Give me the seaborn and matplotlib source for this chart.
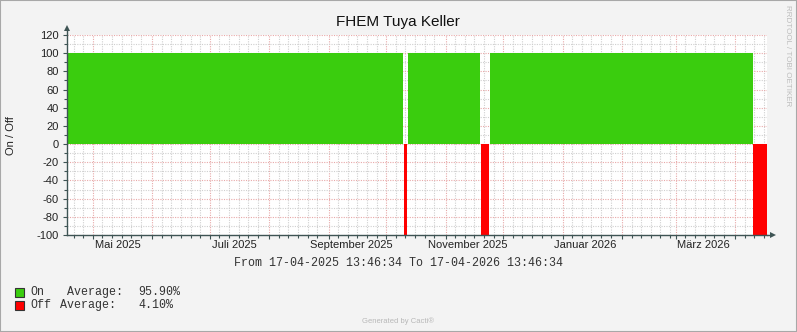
import matplotlib
matplotlib.use("Agg")
import numpy as np
import pandas as pd
import matplotlib.pyplot as plt
import matplotlib.dates as mdates
from matplotlib.patches import Rectangle
import seaborn as sns

# ---------------- data ----------------
title = "FHEM Tuya Keller"
y_label = "On / Off"
t_start = "2025-04-17 13:46:34"
t_end = "2026-04-17 13:46:34"

on_starts = ["2025-04-17 13:46:34", "2025-10-12 09:00:00", "2025-11-24 04:00:00"]
on_ends = ["2025-10-09 18:30:00", "2025-11-19 02:00:00", "2026-04-10 00:20:00"]
on_value = 100

off_starts = ["2025-10-10 06:40:00", "2025-11-19 13:40:00", "2026-04-10 06:00:00"]
off_ends = ["2025-10-11 21:00:00", "2025-11-23 16:00:00", "2026-04-17 13:46:34"]
off_value = -100

month_labels = ["Mai 2025", "Juli 2025", "September 2025", "November 2025",
                "Januar 2026", "März 2026"]
month_label_dates = ["2025-05-14 00:00:00", "2025-07-14 00:00:00", "2025-09-13 00:00:00",
                     "2025-11-12 16:00:00", "2026-01-12 20:00:00", "2026-03-15 06:00:00"]

y_ticks = [-100, -80, -60, -40, -20, 0, 20, 40, 60, 80, 100, 120]

legend_names = ["On", "Off"]
legend_avgs = ["95.90%", "4.10%"]
period_text = "From 17-04-2025 13:46:34 To 17-04-2026 13:46:34"
footer = "Generated by Cacti®"
side_text = "RRDTOOL / TOBI OETIKER"

# ---------------- style ----------------
GREEN = "#3ACD0E"
RED = "#FF0000"
BG = "#F3F3F3"
AXC = "#3E5454"
SANS = ["Liberation Sans", "DejaVu Sans"]
MONO = ["Liberation Mono", "DejaVu Sans Mono"]

sns.set_theme(style="white")
plt.rcParams["font.family"] = SANS
plt.rcParams["axes.unicode_minus"] = False

W, H = 797, 332
fig = plt.figure(figsize=(W / 100, H / 100), dpi=100, facecolor=BG)

def fx(px):
    return px / W

def fy(py):
    return 1 - py / H

L, R, T, B = 67, 767, 35, 235
ax = fig.add_axes([fx(L), fy(B), (R - L) / W, (B - T) / H])
ax.set_facecolor("white")

t0 = pd.Timestamp(t_start)
t1 = pd.Timestamp(t_end)

for s, e in zip(on_starts, on_ends):
    xs = [pd.Timestamp(s), pd.Timestamp(e)]
    ax.fill_between(xs, 0, on_value, color=GREEN, lw=0, zorder=2)
for s, e in zip(off_starts, off_ends):
    xs = [pd.Timestamp(s), pd.Timestamp(e)]
    ax.fill_between(xs, off_value, 0, color=RED, lw=0, zorder=2)

ax.set_xlim(t0, t1)
ax.set_ylim(-100, 120)

# grids
ax.xaxis.set_major_locator(mdates.MonthLocator())
ax.xaxis.set_minor_locator(mdates.DayLocator(bymonthday=[6, 11, 16, 21, 26]))
ax.xaxis.set_major_formatter(plt.NullFormatter())
ax.set_yticks(y_ticks)
ax.set_yticks(np.arange(-90, 120, 20), minor=True)

ax.grid(which="major", axis="both", color="#E8A8A8", linestyle=(0, (1, 1.2)), lw=0.8, zorder=1)
ax.grid(which="minor", axis="both", color="#CFCFCF", linestyle=(0, (1, 1.2)), lw=0.8, zorder=1)
ax.set_axisbelow(True)

ax.tick_params(axis="y", which="major", length=3, width=0.8, color=AXC,
               labelsize=8, labelcolor="#222222", pad=3)
ax.tick_params(axis="y", which="minor", length=2, width=0.8, color=AXC)
ax.tick_params(axis="x", which="major", length=3, width=0.8, color=AXC, pad=2)
ax.tick_params(axis="x", which="minor", length=2, width=0.8, color=AXC)
ax.tick_params(left=True, bottom=True, which="both")

for side in ["top", "right"]:
    ax.spines[side].set_visible(False)
for side in ["left", "bottom"]:
    ax.spines[side].set_color(AXC)
    ax.spines[side].set_linewidth(1.0)
    ax.spines[side].set_zorder(5)

# month labels
trans = ax.get_xaxis_transform()
for d, lab in zip(month_label_dates, month_labels):
    ax.text(pd.Timestamp(d), -0.05, lab, transform=trans, ha="center", va="center",
            fontsize=8, color="#222222", family=SANS)

# axis arrows
ax.plot([0, 0], [1.0, 1.03], transform=ax.transAxes, color=AXC, lw=1.0, clip_on=False, zorder=6)
ax.plot([0], [1.035], transform=ax.transAxes, marker="^", ms=5, color=AXC, clip_on=False,
        markeredgewidth=0, zorder=6)
ax.plot([1.0, 1.006], [0, 0], transform=ax.transAxes, color=AXC, lw=1.0, clip_on=False, zorder=6)
ax.plot([1.0085], [0], transform=ax.transAxes, marker=">", ms=5, color=AXC, clip_on=False,
        markeredgewidth=0, zorder=6)

# texts
fig.text(fx(398), fy(22), title, ha="center", va="center", fontsize=11, color="#111111",
         family=SANS)
fig.text(fx(11), fy(136), y_label, ha="center", va="center", rotation=90, fontsize=8,
         color="#222222", family=SANS)
fig.text(fx(398), fy(263), period_text, ha="center", va="center", fontsize=8.4,
         color="#333333", family=MONO)
fig.text(fx(398), fy(321), footer, ha="center", va="center", fontsize=5.5,
         color="#B8B8B8", family=SANS)
fig.text(fx(788), fy(56), side_text, ha="center", va="center", rotation=270,
         fontsize=5.8, color="#BDBDBD", family=SANS)

# legend
leg_colors = [GREEN, RED]
leg_y = [292, 305]
avg_x = [67, 60]
for name, avg, c, yy, axx in zip(legend_names, legend_avgs, leg_colors, leg_y, avg_x):
    fig.patches.append(Rectangle((fx(15), fy(yy + 4.5)), 9 / W, 9 / H, transform=fig.transFigure,
                                 facecolor=c, edgecolor="#333333", lw=0.8))
    fig.text(fx(30), fy(yy), name, ha="left", va="center", fontsize=8.4, color="#333333",
             family=MONO)
    fig.text(fx(axx), fy(yy), "Average:", ha="left", va="center", fontsize=8.4,
             color="#333333", family=MONO)
    fig.text(fx(138), fy(yy), avg, ha="left", va="center", fontsize=8.4, color="#333333",
             family=MONO)

# frame
fig.patches.append(Rectangle((0, 0), 1, 1, transform=fig.transFigure, fill=False,
                             edgecolor="#A8A8A8", lw=1.5))

fig.savefig("out.png", dpi=100, facecolor=BG)
